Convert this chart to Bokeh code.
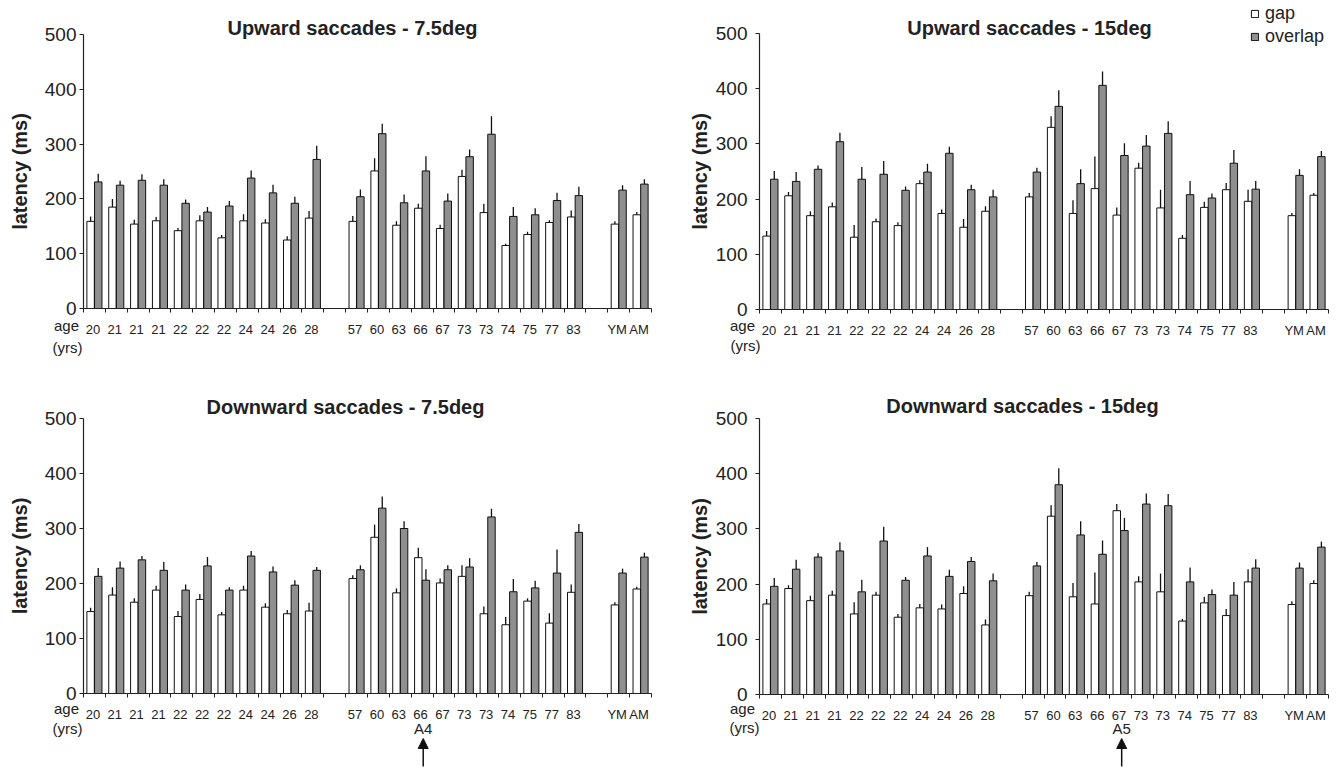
from bokeh.plotting import figure
from bokeh.layouts import column, row
from bokeh.models import (Range1d, FixedTicker, Label, Arrow, NormalHead,
                          ColumnDataSource, Legend, LegendItem)
from bokeh.embed import file_html
from bokeh.resources import INLINE

# ---------------- data ----------------
age_labels = ["20", "21", "21", "21", "22", "22", "22", "24", "24", "26", "28",
              "57", "60", "63", "66", "67", "73", "73", "74", "75", "77", "83",
              "YM", "AM"]
# category slot of each label (slots 11 and 23 are empty spacers)
slots = [0, 1, 2, 3, 4, 5, 6, 7, 8, 9, 10,
         12, 13, 14, 15, 16, 17, 18, 19, 20, 21, 22,
         24, 25]
n_slots = 26
y_ticks = [0, 100, 200, 300, 400, 500]

# Upward saccades - 7.5deg
up75_gap = [159, 185, 154, 160, 142, 160, 129, 160, 156, 125, 165,
            159, 251, 152, 183, 146, 241, 175, 115, 135, 157, 167, 154, 171]
up75_gap_se = [9, 15, 8, 7, 5, 10, 5, 12, 7, 7, 13,
               10, 23, 7, 8, 7, 12, 16, 3, 5, 4, 12, 5, 5]
up75_ovl = [231, 225, 234, 225, 192, 176, 187, 238, 211, 192, 272,
            204, 319, 193, 251, 196, 277, 318, 168, 171, 197, 206, 216, 227]
up75_ovl_se = [15, 8, 11, 11, 7, 9, 9, 14, 15, 12, 25,
               13, 18, 15, 27, 14, 13, 33, 17, 12, 14, 16, 9, 9]

# Upward saccades - 15deg
up15_gap = [133, 206, 170, 186, 131, 159, 152, 228, 174, 149, 178,
            204, 330, 174, 219, 171, 256, 184, 129, 185, 217, 196, 170, 207]
up15_gap_se = [9, 7, 8, 8, 22, 6, 6, 6, 7, 15, 9,
               7, 20, 24, 58, 14, 10, 33, 6, 10, 12, 21, 5, 4]
up15_ovl = [236, 232, 254, 304, 236, 245, 216, 249, 283, 217, 204,
            249, 368, 228, 406, 279, 296, 319, 208, 202, 265, 218, 243, 277]
up15_ovl_se = [15, 17, 7, 16, 22, 24, 7, 15, 12, 9, 13,
               8, 29, 26, 25, 22, 20, 22, 25, 8, 24, 15, 11, 10]

# Downward saccades - 7.5deg
dn75_gap = [149, 179, 166, 188, 140, 171, 143, 188, 157, 145, 150,
            209, 284, 183, 247, 201, 213, 145, 125, 168, 128, 184, 161, 190]
dn75_gap_se = [7, 14, 7, 8, 10, 10, 5, 8, 7, 7, 15,
               6, 23, 8, 18, 8, 20, 13, 14, 5, 18, 14, 5, 4]
dn75_ovl = [213, 228, 243, 224, 188, 232, 188, 250, 221, 197, 224,
            225, 337, 300, 206, 225, 230, 321, 185, 192, 219, 293, 219, 248]
dn75_ovl_se = [15, 12, 7, 15, 10, 16, 5, 9, 10, 9, 6,
               8, 21, 13, 20, 8, 16, 15, 23, 13, 43, 15, 8, 8]

# Downward saccades - 15deg
dn15_gap = [164, 192, 170, 180, 146, 180, 140, 157, 155, 183, 126,
            179, 323, 177, 164, 333, 204, 186, 133, 166, 143, 204, 163, 201]
dn15_gap_se = [9, 6, 9, 8, 21, 6, 6, 7, 8, 13, 10,
               7, 20, 25, 57, 12, 10, 33, 4, 11, 12, 23, 6, 6]
dn15_ovl = [196, 227, 249, 260, 186, 278, 207, 251, 214, 241, 206,
            233, 380, 289, 254, 297, 345, 342, 204, 181, 180, 229, 229, 267]
dn15_ovl_se = [15, 17, 7, 16, 22, 26, 6, 16, 12, 8, 13,
               7, 30, 25, 25, 23, 19, 21, 26, 9, 24, 16, 10, 10]

# ---------------- style ----------------
FONT = "Liberation Sans"
TXT = "#222222"
GRAY = "#8f8f8f"
EDGE = "#111111"


def make_panel(title, gap, gap_se, ovl, ovl_se, canvas, box, left_col,
               title_xy, age_xy, yrs_xy, legend=False, marker=None):
    """canvas = (left, top, width, height) in page px,
    box = (left, right, top, bottom) of the data area in page px."""
    cl, ct, cw, ch = canvas
    bl, br, bt, bb = box
    sx = (br - bl) / n_slots
    sy = (bb - bt) / 500.0

    def X(px):
        return (px - bl) / sx

    def Y(py):
        return (bb - py) / sy

    p = figure(width=cw, height=ch,
               x_range=Range1d(X(cl), X(cl + cw)),
               y_range=Range1d(Y(ct + ch), Y(ct)),
               min_border=0, output_backend="svg", toolbar_location=None)
    p.min_border_left = p.min_border_right = 0
    p.min_border_top = p.min_border_bottom = 0
    p.xgrid.visible = False
    p.ygrid.visible = False
    p.outline_line_color = None
    p.background_fill_color = "white"
    p.border_fill_color = "white"

    src = ColumnDataSource(dict(
        xg=[s + 0.325 for s in slots], xo=[s + 0.675 for s in slots],
        gap=gap, ovl=ovl,
        gtop=[m + e for m, e in zip(gap, gap_se)],
        otop=[m + e for m, e in zip(ovl, ovl_se)]))
    rg = p.vbar(x="xg", top="gap", bottom=0, width=0.34, source=src,
                fill_color="white", line_color=EDGE, line_width=1)
    ro = p.vbar(x="xo", top="ovl", bottom=0, width=0.34, source=src,
                fill_color=GRAY, line_color=EDGE, line_width=1)
    p.segment(x0="xg", y0="gap", x1="xg", y1="gtop", source=src,
              line_color=EDGE, line_width=1.3)
    p.segment(x0="xo", y0="ovl", x1="xo", y1="otop", source=src,
              line_color=EDGE, line_width=1.3)

    # x axis, drawn at y = 0
    xa = p.xaxis[0]
    xa.fixed_location = 0
    xa.bounds = (0, n_slots)
    label_pos = [s + 0.43 for s in slots]
    xa.ticker = FixedTicker(ticks=label_pos, minor_ticks=list(range(n_slots + 1)))
    xa.major_label_overrides = {x: t for x, t in zip(label_pos, age_labels)}
    xa.major_tick_line_color = None
    xa.major_tick_out = 0
    xa.major_tick_in = 0
    xa.minor_tick_line_color = TXT
    xa.minor_tick_out = 4
    xa.minor_tick_in = 0
    xa.major_label_standoff = 9
    xa.major_label_text_font = FONT
    xa.major_label_text_font_size = "13px"
    xa.major_label_text_color = TXT
    xa.axis_line_color = TXT
    xa.axis_line_width = 1.2

    # y axis, drawn at x = 0
    ya = p.yaxis[0]
    ya.fixed_location = 0
    ya.bounds = (0, 500)
    ya.ticker = FixedTicker(ticks=y_ticks, minor_ticks=[])
    ya.major_tick_out = 4
    ya.major_tick_in = 0
    ya.major_tick_line_color = TXT
    ya.minor_tick_line_color = None
    ya.axis_line_color = TXT
    ya.axis_line_width = 1.2
    ya.major_label_standoff = 3 if left_col else 8
    ya.major_label_text_font = FONT
    ya.major_label_text_font_size = "19px"
    ya.major_label_text_color = TXT
    ya.axis_label = "latency (ms)"
    ya.axis_label_text_font = FONT
    ya.axis_label_text_font_style = "bold"
    ya.axis_label_text_font_size = "20px"
    ya.axis_label_text_color = TXT
    ya.axis_label_standoff = 11 if left_col else 2

    tx, ty = title_xy
    p.add_layout(Label(x=X(tx), y=Y(ty), text=title,
                       text_align="center", text_baseline="alphabetic",
                       text_font=FONT, text_font_style="bold",
                       text_font_size="20px", text_color=TXT))
    for txt, (lx, ly) in (("age", age_xy), ("(yrs)", yrs_xy)):
        p.add_layout(Label(x=X(lx), y=Y(ly), text=txt,
                           text_align="center", text_baseline="middle",
                           text_font=FONT, text_font_size="15px", text_color=TXT))

    if legend:
        leg = Legend(items=[LegendItem(label="gap", renderers=[rg]),
                            LegendItem(label="overlap", renderers=[ro])],
                     location=(1250 - cl, ct + ch - 47), orientation="vertical",
                     border_line_color=None, background_fill_alpha=0,
                     padding=0, margin=0, spacing=2,
                     glyph_width=9, glyph_height=9, label_height=20,
                     label_standoff=6, label_text_font=FONT,
                     label_text_font_size="18px", label_text_color=TXT)
        p.add_layout(leg)

    if marker is not None:
        text, slot, (mx, my) = marker
        xm = slot + 0.55
        p.add_layout(Label(x=xm, y=Y(my), text=text,
                           text_align="center", text_baseline="middle",
                           text_font=FONT, text_font_size="15px", text_color=TXT))
        p.add_layout(Arrow(x_start=xm, y_start=Y(ct + ch - 1), x_end=xm, y_end=Y(738),
                           line_color=EDGE, line_width=1.5,
                           end=NormalHead(size=10, fill_color=EDGE, line_color=EDGE)))
    return p


W1, W2 = 670, 666
H1, H2 = 380, 387

p1 = make_panel("Upward saccades - 7.5deg", up75_gap, up75_gap_se, up75_ovl, up75_ovl_se,
                (0, 0, W1, H1), (83, 651, 34, 308), True,
                (352, 27), (66, 325), (67, 347))
p2 = make_panel("Upward saccades - 15deg", up15_gap, up15_gap_se, up15_ovl, up15_ovl_se,
                (W1, 0, W2, H1), (759, 1328, 33, 309), False,
                (1029, 27), (742, 325), (745, 345), legend=True)
p3 = make_panel("Downward saccades - 7.5deg", dn75_gap, dn75_gap_se, dn75_ovl, dn75_ovl_se,
                (0, H1, W1, H2), (83, 651, 418, 693), True,
                (345, 406), (66, 708), (67, 728), marker=("A4", 15, (423, 728)))
p4 = make_panel("Downward saccades - 15deg", dn15_gap, dn15_gap_se, dn15_ovl, dn15_ovl_se,
                (W1, H1, W2, H2), (759, 1328, 418, 694), False,
                (1022, 405), (742, 708), (744, 727), marker=("A5", 16, (1122, 728)))

layout = column(row(p1, p2), row(p3, p4))
open("out.html", "w").write(file_html(layout, INLINE))
